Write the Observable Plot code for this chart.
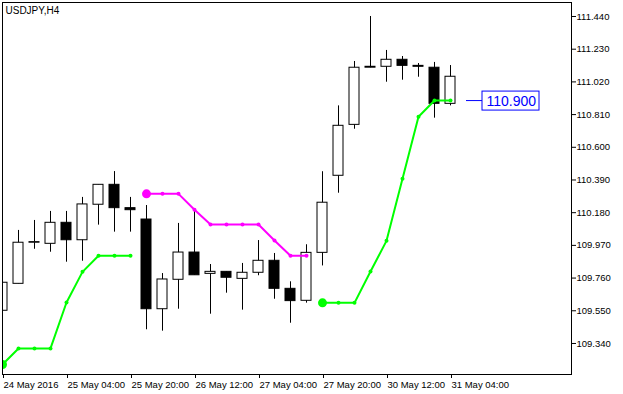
<!DOCTYPE html>
<html><head><meta charset="utf-8">
<script src="https://cdn.jsdelivr.net/npm/d3@7"></script>
<script src="https://cdn.jsdelivr.net/npm/@observablehq/plot@0.6"></script>
<style>body{margin:0;background:#fff} #chart svg{display:block}</style>
</head><body><div id="chart"></div>
<script>
const symbol = "USDJPY,H4";
const opens  = [109.550,109.723,109.987,109.980,110.115,110.003,110.231,110.359,110.209,110.136,109.560,109.749,109.924,109.787,109.800,109.755,109.794,109.871,109.691,109.614,109.922,110.417,110.744,111.111,111.117,111.162,111.123,111.111,110.879];
const highs  = [109.733,110.066,110.130,110.188,110.188,110.278,110.359,110.444,110.278,110.226,109.789,110.111,110.196,109.847,109.800,109.854,110.001,109.918,109.736,109.974,110.443,110.866,111.151,111.440,111.222,111.183,111.138,111.145,111.125];
const lows   = [109.547,109.723,109.945,109.926,109.862,109.868,110.100,110.055,110.055,109.428,109.419,109.560,109.778,109.528,109.663,109.554,109.775,109.624,109.470,109.599,109.838,110.305,110.716,111.110,111.018,111.031,111.050,110.787,110.866];
const closes = [109.730,109.987,109.991,110.115,110.003,110.233,110.359,110.209,110.196,109.560,109.751,109.924,109.778,109.800,109.762,109.794,109.871,109.691,109.612,109.922,110.244,110.738,111.111,111.117,111.162,111.123,111.117,110.879,111.053];

const upBars1 = [0,1,2,3,4,5,6,7,8];
const upValues1 = [109.205,109.308,109.308,109.308,109.603,109.800,109.903,109.903,109.903];
const downBars = [9,10,11,12,13,14,15,16,17,18,19];
const downValues = [110.301,110.301,110.301,110.199,110.104,110.104,110.104,110.104,110.001,109.903,109.903];
const upBars2 = [20,21,22,23,24,25,26,27,28];
const upValues2 = [109.601,109.601,109.601,109.802,109.999,110.398,110.796,110.900,110.900];

const xTickBars = [0,4,8,12,16,20,24,28];
const xTickLabels = ["24 May 2016","25 May 04:00","25 May 20:00","26 May 12:00","27 May 04:00","27 May 20:00","30 May 12:00","31 May 04:00"];
const yTicks = [109.34,109.55,109.76,109.97,110.18,110.39,110.60,110.81,111.02,111.23,111.44];
const lastPrice = 110.900;

const candles = opens.map((o,i)=>({i, o, h: highs[i], l: lows[i], c: closes[i]}));
const seg1 = upBars1.map((b,k)=>({i:b, v:upValues1[k]}));
const seg2 = downBars.map((b,k)=>({i:b, v:downValues[k]}));
const seg3 = upBars2.map((b,k)=>({i:b, v:upValues2[k]}));

const GREEN = "#00ff00", MAG = "#ff00ff", BLUE = "#0000ff";

function lineMarks(seg, color){
  return [
    Plot.line(seg, {x:"i", y:"v", stroke: color, strokeWidth: 2, clip: true}),
    Plot.dot(seg, {x:"i", y:"v", r: 2, fill: color, clip: true}),
    Plot.dot(seg.slice(0,1), {x:"i", y:"v", r: 4.5, fill: color, clip: true})
  ];
}

const chart = Plot.plot({
  width: 623, height: 394,
  marginLeft: 2, marginRight: 52, marginTop: 2, marginBottom: 20,
  style: {fontFamily: "'Liberation Sans', Arial, sans-serif", fontSize: "9.5px", background: "white", color: "black"},
  x: {type: "linear", domain: [0, 569/16], range: [2, 571], label: null},
  y: {type: "linear", domain: [109.1407, 111.5299], label: null},
  marks: [
    Plot.ruleX(candles, {x: "i", y1: "l", y2: "h", stroke: "black", strokeWidth: 1, clip: true}),
    Plot.rect(candles, {x1: d => d.i - 0.5, x2: d => d.i + 0.5, y1: "o", y2: "c", insetLeft: 3, insetRight: 3,
      fill: d => d.c >= d.o ? "white" : "black", stroke: "black", strokeWidth: 1, clip: true}),
    ...lineMarks(seg1, GREEN),
    ...lineMarks(seg2, MAG),
    ...lineMarks(seg3, GREEN),
    Plot.ruleY([lastPrice], {y: d => d, x1: 29, x2: 30, stroke: BLUE, strokeWidth: 1}),
    Plot.rect([lastPrice], {x1: 30, x2: 33.5625, y1: d => d, y2: d => d, insetTop: -9, insetBottom: -10, fill: "white", stroke: BLUE, strokeWidth: 1}),
    Plot.text([lastPrice], {x: 30, y: d => d, text: d => d.toFixed(3), textAnchor: "start", dx: 4, dy: 0.5, fill: BLUE, fontSize: 14, fontFamily: "'Liberation Sans', Arial, sans-serif"}),
    Plot.text([symbol], {frameAnchor: "top-left", dx: 3, dy: 4, text: d => d, textAnchor: "start", lineAnchor: "top", fill: "black", fontSize: 10, fontFamily: "'Liberation Sans Narrow', 'Liberation Sans', sans-serif"}),
    Plot.axisY(yTicks, {anchor: "right", label: null, tickSize: 4, tickPadding: 1, tickFormat: d => d.toFixed(3), fill: "black", stroke: "black"}),
    Plot.axisX(xTickBars, {anchor: "bottom", label: null, tickSize: 4, tickPadding: 3, textAnchor: "start", dx: 1, tickFormat: d => xTickLabels[xTickBars.indexOf(d)], fill: "black", stroke: "black"}),
    Plot.frame({stroke: "black", strokeWidth: 1})
  ]
});
document.getElementById("chart").appendChild(chart);
</script>
</body></html>
